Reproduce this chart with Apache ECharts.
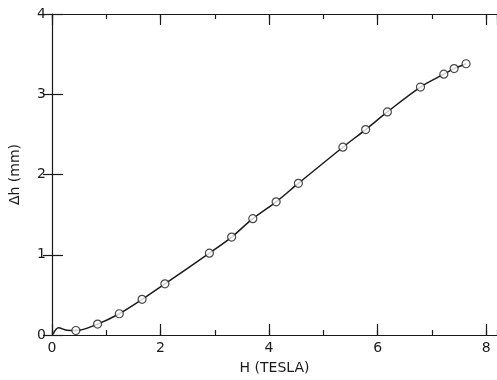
<!DOCTYPE html>
<html>
<head>
<meta charset="utf-8">
<script src="https://cdn.jsdelivr.net/npm/echarts@6/dist/echarts.min.js"></script>
<style>
  html, body { margin: 0; padding: 0; background: #fff; }
  #chart { width: 497px; height: 380px; }
</style>
</head>
<body>
<div id="chart"></div>
<script>
// measured points (H in tesla, delta h in mm)
const fieldH = [0.44, 0.84, 1.24, 1.66, 2.08, 2.90, 3.31, 3.70, 4.13, 4.54, 5.36, 5.78, 6.18, 6.79, 7.22, 7.41, 7.63];
const deltaH = [0.056, 0.136, 0.265, 0.444, 0.638, 1.02, 1.22, 1.45, 1.66, 1.89, 2.34, 2.56, 2.78, 3.09, 3.25, 3.32, 3.38];

// start of the drawn curve, before the first point
const startH = [0.02, 0.12, 0.27];
const startDh = [0.01, 0.09, 0.06];

const xTicks = [0, 2, 4, 6, 8];
const yTicks = [0, 1, 2, 3, 4];

const ink = '#1a1a1a';
const font = 'DejaVu Sans';

const curve = startH.map((h, i) => [h, startDh[i]])
  .concat(fieldH.map((h, i) => [h, deltaH[i]]));
const points = fieldH.map((h, i) => [h, deltaH[i]]);

const chart = echarts.init(document.getElementById('chart'));

function xAxisDef(position, tickLen, step, showLabel, showLine) {
  return {
    type: 'value',
    position: position,
    min: 0,
    max: 8.2,
    interval: step,
    axisLine: { show: showLine, lineStyle: { color: ink, width: 1.2 } },
    axisTick: { show: true, inside: true, length: tickLen, lineStyle: { color: ink, width: 1.2 } },
    axisLabel: {
      show: showLabel,
      showMaxLabel: false,
      margin: 6,
      color: ink,
      fontFamily: font,
      fontSize: 14,
      formatter: v => (xTicks.indexOf(v) >= 0 ? String(v) : '')
    },
    splitLine: { show: false },
    name: showLabel ? 'H (TESLA)' : '',
    nameLocation: 'middle',
    nameGap: 26,
    nameTextStyle: { color: ink, fontFamily: font, fontSize: 14 }
  };
}

const option = {
  animation: false,
  backgroundColor: '#fff',
  grid: { left: 50, right: 0, top: 14, bottom: 42 },
  xAxis: [
    xAxisDef('bottom', 11, 2, true, true),
    xAxisDef('bottom', 5, 1, false, false),
    xAxisDef('top', 11, 2, false, true),
    xAxisDef('top', 5, 1, false, false)
  ],
  yAxis: [
    {
      type: 'value',
      position: 'left',
      min: 0,
      max: 4,
      interval: 1,
      axisLine: { show: true, lineStyle: { color: ink, width: 1.2 } },
      axisTick: { show: true, inside: true, length: 11, lineStyle: { color: ink, width: 1.2 } },
      axisLabel: {
        margin: 6,
        color: ink,
        fontFamily: font,
        fontSize: 14,
        formatter: v => (yTicks.indexOf(v) >= 0 ? String(v) : '')
      },
      splitLine: { show: false },
      name: 'Δh (mm)',
      nameLocation: 'middle',
      nameGap: 30,
      nameRotate: 90,
      nameTextStyle: { color: ink, fontFamily: font, fontSize: 14 }
    },
    {
      type: 'value',
      position: 'right',
      min: 0,
      max: 4,
      interval: 1,
      axisLine: { show: false },
      axisTick: { show: true, inside: true, length: 9, lineStyle: { color: ink, width: 1.2 } },
      axisLabel: { show: false },
      splitLine: { show: false }
    }
  ],
  series: [
    {
      name: 'curve',
      type: 'line',
      xAxisIndex: 0,
      yAxisIndex: 0,
      data: curve,
      smooth: 0.35,
      showSymbol: false,
      lineStyle: { color: ink, width: 1.5 },
      z: 2
    },
    {
      name: 'measured',
      type: 'scatter',
      xAxisIndex: 0,
      yAxisIndex: 0,
      data: points,
      symbol: 'circle',
      symbolSize: 8,
      itemStyle: { color: '#fff', borderColor: ink, borderWidth: 1.2 },
      z: 3
    }
  ]
};

chart.setOption(option);
</script>
</body>
</html>
